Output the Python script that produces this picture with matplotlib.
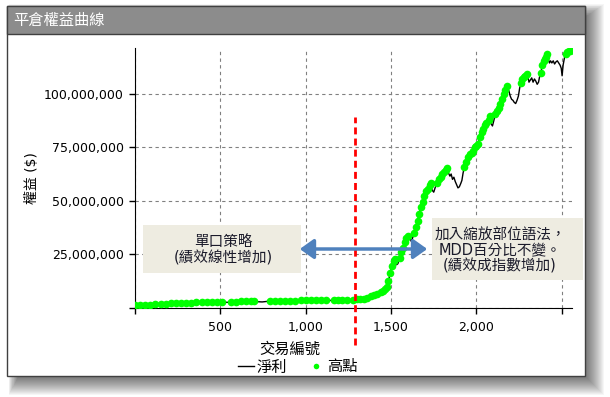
import numpy as np
import matplotlib
matplotlib.use('Agg')
from matplotlib import pyplot as plt
from matplotlib.lines import Line2D
from matplotlib.patches import Rectangle, FancyArrowPatch

plt.rcParams['font.family'] = ['DejaVu Sans', 'Noto Sans CJK TC']

# equity curve (trade number, equity in millions)
trades = [0, 30, 60, 90, 120, 150, 180, 210, 240, 270, 300, 330, 360, 375, 390, 420, 450, 480, 510, 540,
          560, 590, 620, 650, 680, 700, 720, 745, 770, 790, 820, 850, 880, 910, 940, 970, 1000, 1030, 1060,
          1090, 1120, 1145, 1165, 1190, 1215, 1240, 1260, 1275, 1300, 1320, 1340, 1360, 1380, 1400, 1420,
          1440, 1455, 1465, 1475, 1485, 1495, 1505, 1515, 1525, 1532, 1540, 1550, 1560, 1570, 1580, 1590,
          1600, 1610, 1618, 1626, 1635, 1645, 1655, 1665, 1675, 1685, 1695, 1703, 1710, 1718, 1726, 1733,
          1740, 1750, 1760, 1770, 1780, 1790, 1800, 1810, 1820, 1828, 1836, 1845, 1852, 1860, 1868, 1876,
          1884, 1892, 1900, 1908, 1915, 1922, 1930, 1940, 1950, 1960, 1966, 1972, 1980, 1990, 2000, 2010,
          2020, 2030, 2040, 2048, 2056, 2064, 2072, 2080, 2086, 2094, 2102, 2110, 2120, 2130, 2140, 2150,
          2160, 2170, 2178, 2184, 2190, 2198, 2206, 2214, 2222, 2230, 2238, 2246, 2254, 2262, 2270, 2278,
          2286, 2294, 2300, 2308, 2316, 2324, 2332, 2340, 2348, 2356, 2364, 2370, 2378, 2386, 2394, 2402,
          2410, 2416, 2422, 2428, 2434, 2442, 2450, 2458, 2466, 2474, 2482, 2490, 2497, 2502, 2508, 2516,
          2524, 2532, 2540, 2550, 2560]
equity_m = [1.0, 1.1, 1.2, 1.3, 1.5, 1.6, 1.7, 1.9, 2.0, 2.1, 2.2, 2.3, 2.4, 2.2, 2.4, 2.5, 2.5, 2.5, 2.6, 2.4,
            2.6, 2.8, 2.9, 2.9, 3.0, 3.0, 2.7, 2.6, 2.8, 3.0, 3.0, 3.1, 3.1, 3.2, 3.2, 3.3, 3.4, 3.4, 3.5,
            3.5, 3.5, 3.3, 3.6, 3.6, 3.7, 3.7, 3.5, 3.7, 3.8, 3.9, 4.1, 4.6, 5.2, 5.8, 6.4,
            7.2, 7.8, 8.6, 9.8, 12.5, 16, 19.5, 22, 22.5, 20, 20.5, 23, 26, 28, 30.5, 32.5,
            33.5, 33, 31, 32.5, 35, 37.5, 40.5, 44, 47, 49.5, 52, 54.5, 52, 55.5, 57.5, 58.5,
            55, 54, 56.5, 58.5, 60, 61, 62.5, 63.5, 64.5, 65.5, 63, 61.5, 62.5, 60, 61, 59,
            57.5, 56, 56.5, 58, 59.5, 63, 66, 68, 70.5, 72, 70.5, 72.5, 73.5, 75, 75.5, 76.5,
            80, 82, 83.5, 85.5, 86.5, 85, 88, 89.5, 86, 85, 87.5, 90.5, 92, 93.5, 95.5, 97.5,
            100, 102, 103.5, 102, 101.5, 99, 97.5, 97, 96, 95.5, 97, 99, 103, 105, 107, 108,
            108.5, 109.5, 109, 105.5, 106.5, 107.5, 105.5, 107, 106, 104.5, 105.5, 108, 110, 113.5, 115.5, 116.5,
            117.5, 118.5, 116, 114.5, 115.5, 114.5, 115.5, 114, 115, 115.5, 114.5, 113.5, 112, 108.5, 113.5, 117,
            118.5, 119.5, 120, 120.3, 120.5]

x_ticks = [0, 500, 1000, 1500, 2000, 2500]
x_ticklabels = ['', '500', '1,000', '1,500', '2,000', '']
y_ticks = [0, 25e6, 50e6, 75e6, 100e6]
y_ticklabels = ['', '25,000,000', '50,000,000', '75,000,000', '100,000,000']
split_trade = 1290  # red dashed marker

W, H = 610, 397
def px(x, y):
    return x / W, 1 - y / H

fig = plt.figure(figsize=(W / 100, H / 100), dpi=100, facecolor='white')

# drop shadow of the panel (falls to the lower right)
for k in range(18):
    x0, y0 = px(18 - k * 0.55, 16 - k * 0.7)
    x1, y1 = px(587 + k, 378 + k)
    fig.add_artist(Rectangle((x0, y1), x1 - x0, y0 - y1, transform=fig.transFigure,
                             facecolor='black', edgecolor='none', alpha=0.034, zorder=0))
# panel
x0, y0 = px(7, 6)
x1, y1 = px(585, 376)
fig.add_artist(Rectangle((x0, y1), x1 - x0, y0 - y1, transform=fig.transFigure,
                         facecolor='white', edgecolor='#404040', lw=1, zorder=1))
# title bar
tx0, ty0 = px(7, 6)
tx1, ty1 = px(585, 34)
fig.add_artist(Rectangle((tx0, ty1), tx1 - tx0, ty0 - ty1, transform=fig.transFigure,
                         facecolor='#8c8c8c', edgecolor='#404040', lw=1, zorder=2))
fig.text(*px(13, 20), '平倉權益曲線', color='white', fontsize=11, ha='left', va='center', zorder=3)

l, b = px(135, 307.5)
r, t = px(572, 48)
ax = fig.add_axes([l, b, r - l, t - b])
ax.set_zorder(3)
ax.patch.set_alpha(0)

equity = np.array(equity_m) * 1e6
trades = np.array(trades)
is_high = equity >= np.maximum.accumulate(equity)

ax.plot(trades, equity, color='black', lw=1, zorder=2)
ax.plot(trades[is_high], equity[is_high], 'o', color='#00ff00', ms=5.5, mec='none', zorder=3)

ax.plot([split_trade, split_trade], [-17.5e6, 89e6], color='red', lw=2,
        dashes=(2.5, 1.5), clip_on=False, zorder=4)

ax.set_xlim(0, 2560)
ax.set_ylim(0, 121.5e6)
ax.set_xticks(x_ticks)
ax.set_xticklabels(x_ticklabels)
ax.set_yticks(y_ticks)
ax.set_yticklabels(y_ticklabels)
ax.tick_params(direction='out', length=4, width=1, labelsize=9, colors='black')
ax.tick_params(axis='x', pad=6)
ax.tick_params(axis='y', pad=4)
for s in ['top', 'right']:
    ax.spines[s].set_visible(False)
ax.grid(True, color='#808080', lw=0.8, ls=(0, (3, 3)))
ax.set_axisbelow(True)

fig.text(*px(290, 349), '交易編號', fontsize=11, ha='center', va='center', zorder=5)
fig.text(*px(32, 178), '權益 ($)', fontsize=10, rotation=90, ha='center', va='center', zorder=5)

handles = [Line2D([], [], color='black', lw=1),
           Line2D([], [], marker='o', color='#00ff00', ls='', ms=4, mec='none')]
fig.legend(handles, ['淨利', '高點'], loc='center', bbox_to_anchor=px(298, 367), ncol=2,
           frameon=False, fontsize=11, handlelength=1.0, handletextpad=0.2, columnspacing=1.4,
           borderpad=0, borderaxespad=0)

# annotation boxes
bx0, by0 = px(143, 225)
bx1, by1 = px(301, 273)
fig.add_artist(Rectangle((bx0, by1), bx1 - bx0, by0 - by1, transform=fig.transFigure,
                         facecolor='#eeece1', edgecolor='none', zorder=6))
fig.text(*px(223, 250), '單口策略\n(績效線性增加)', fontsize=10.5, ha='center', va='center',
         linespacing=1.15, color='#1a1a2a', zorder=7)

bx0, by0 = px(432, 218)
bx1, by1 = px(583, 280)
fig.add_artist(Rectangle((bx0, by1), bx1 - bx0, by0 - by1, transform=fig.transFigure,
                         facecolor='#eeece1', edgecolor='none', zorder=6))
fig.text(*px(500, 250.5), '加入縮放部位語法，\nMDD百分比不變。\n(績效成指數增加)', fontsize=10.5,
         ha='center', va='center', linespacing=1.05, color='#1a1a2a', zorder=7)

arrow = FancyArrowPatch(px(297, 249), px(430, 249), transform=fig.transFigure,
                        arrowstyle='<|-|>,head_length=0.7,head_width=0.5', mutation_scale=12,
                        color='#4f81bd', lw=2.5, zorder=8)
fig.add_artist(arrow)

fig.savefig('out.png', dpi=100, facecolor=fig.get_facecolor())
